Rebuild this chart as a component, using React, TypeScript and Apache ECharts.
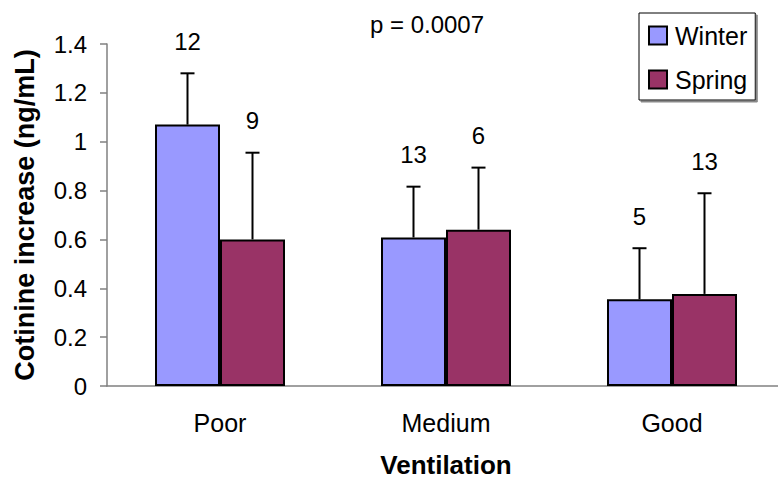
import React, { useEffect, useRef } from "react";
import * as echarts from "echarts";

const categories = ["Poor", "Medium", "Good"];
const winter = [1.07, 0.608, 0.355];
const spring = [0.6, 0.64, 0.377];
const winterErrTop = [1.28, 0.816, 0.564];
const springErrTop = [0.955, 0.894, 0.789];
const winterN = [12, 13, 5];
const springN = [9, 6, 13];
const yMin = 0;
const yMax = 1.4;
const yStep = 0.2;
const pText = "p = 0.0007";

const FONT = "'Liberation Sans', Arial, sans-serif";
const BAR_W = 65;

function errSeries(name: string, vals: number[], tops: number[], ns: number[], sign: number) {
  return {
    type: "custom",
    name,
    z: 5,
    encode: { x: 0, y: 1 },
    data: categories.map((c, i) => [i, vals[i], tops[i], ns[i]]),
    renderItem: (params: any, api: any) => {
      const base = api.coord([api.value(0), api.value(1)]);
      const top = api.coord([api.value(0), api.value(2)]);
      const x = base[0] + (sign * BAR_W) / 2;
      return {
        type: "group",
        children: [
          {
            type: "line",
            shape: { x1: x, y1: base[1], x2: x, y2: top[1] },
            style: { stroke: "#000", lineWidth: 2 },
          },
          {
            type: "line",
            shape: { x1: x - 7, y1: top[1], x2: x + 7, y2: top[1] },
            style: { stroke: "#000", lineWidth: 2 },
          },
          {
            type: "text",
            x,
            y: top[1] - 32,
            style: {
              text: String(api.value(3)),
              textAlign: "center",
              textVerticalAlign: "middle",
              font: `24px ${FONT}`,
              fill: "#000",
            },
          },
        ],
      };
    },
  };
}

export default function App() {
  const ref = useRef<HTMLDivElement>(null);
  useEffect(() => {
    const chart = echarts.init(ref.current!, null, { renderer: "svg" });
    chart.setOption({
      animation: false,
      grid: { left: 107, right: -7, top: 44, bottom: 93, containLabel: false, outerBoundsMode: "none" },
      legend: {
        data: ["Winter", "Spring"],
        orient: "vertical",
        left: 639,
        top: 13,
        icon: "rect",
        itemWidth: 18,
        itemHeight: 18,
        itemGap: 19,
        padding: [10, 8, 8, 9],
        borderColor: "#000",
        borderWidth: 1,
        backgroundColor: "#fff",
        shadowColor: "#888",
        shadowOffsetX: 2,
        shadowOffsetY: 2,
        shadowBlur: 0,
        textStyle: { fontFamily: FONT, fontSize: 25, color: "#000", padding: [0, 0, 0, 3] },
      },
      graphic: [
        {
          type: "text",
          x: 427,
          y: 24,
          style: {
            text: pText,
            textAlign: "center",
            textVerticalAlign: "middle",
            font: `24px ${FONT}`,
            fill: "#000",
          },
        },
      ],
      xAxis: {
        type: "category",
        data: categories,
        name: "Ventilation",
        nameLocation: "middle",
        nameGap: 66,
        nameTextStyle: { fontFamily: FONT, fontSize: 26, fontWeight: "bold", color: "#000" },
        axisLine: { lineStyle: { color: "#808080", width: 1.5 } },
        axisTick: { length: 6, lineStyle: { color: "#808080", width: 1.5 } },
        axisLabel: { margin: 24, fontFamily: FONT, fontSize: 25, color: "#000" },
        splitLine: { show: false },
      },
      yAxis: {
        type: "value",
        min: yMin,
        max: yMax,
        interval: yStep,
        name: "Cotinine increase (ng/mL)",
        nameLocation: "middle",
        nameGap: 69,
        nameTextStyle: { fontFamily: FONT, fontSize: 27, fontWeight: "bold", color: "#000" },
        axisLine: { show: true, lineStyle: { color: "#808080", width: 1.5 } },
        axisTick: { show: true, length: 7, lineStyle: { color: "#808080", width: 1.5 } },
        axisLabel: { margin: 20, fontFamily: FONT, fontSize: 24, color: "#000" },
        splitLine: { show: false },
      },
      series: [
        {
          type: "bar",
          name: "Winter",
          data: winter,
          barWidth: BAR_W,
          barGap: "0%",
          itemStyle: { color: "#9999FF", borderColor: "#000", borderWidth: 2 },
        },
        {
          type: "bar",
          name: "Spring",
          data: spring,
          barWidth: BAR_W,
          barGap: "0%",
          itemStyle: { color: "#993366", borderColor: "#000", borderWidth: 2 },
        },
        errSeries("WinterErr", winter, winterErrTop, winterN, -1),
        errSeries("SpringErr", spring, springErrTop, springN, 1),
      ],
    });
    return () => chart.dispose();
  }, []);
  return (
    <div
      ref={ref}
      style={{ position: "fixed", left: 0, top: 0, width: 778, height: 479, background: "#fff" }}
    />
  );
}
